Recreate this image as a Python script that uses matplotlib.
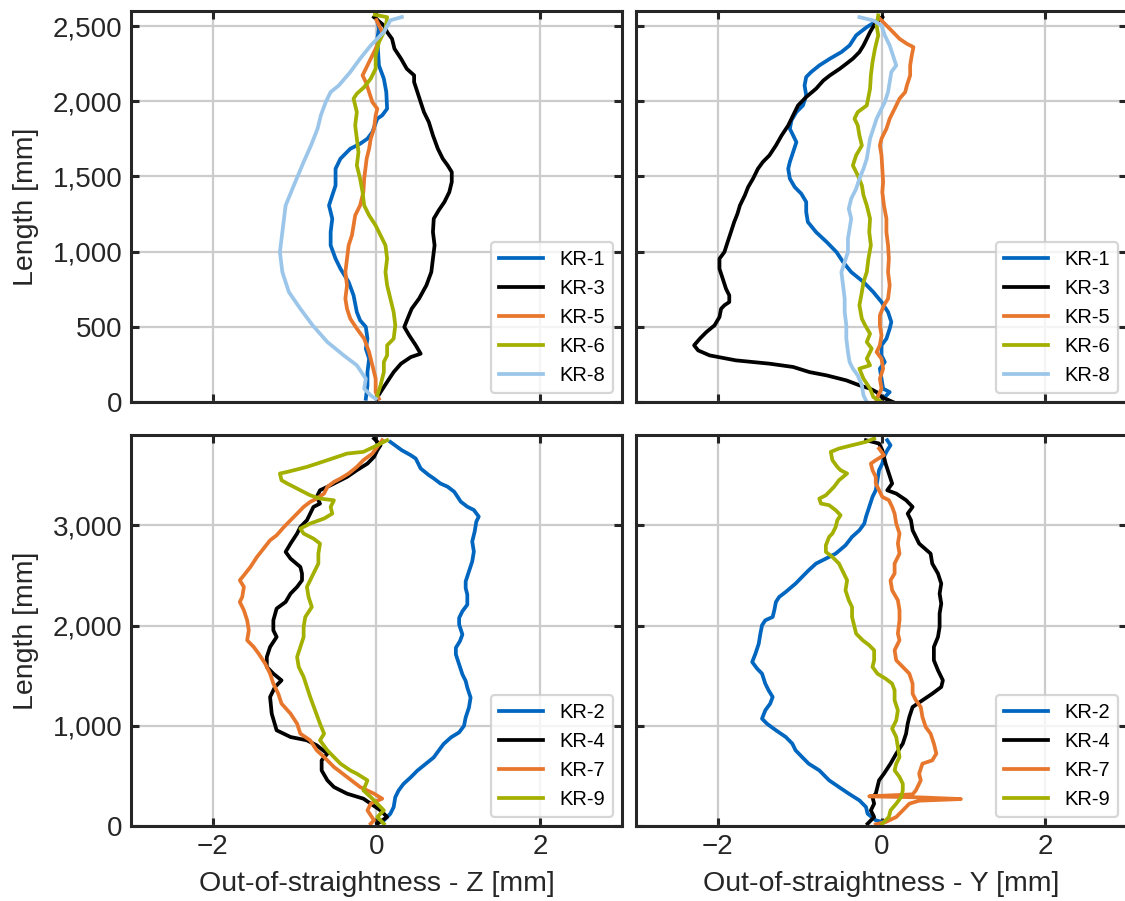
import matplotlib.pyplot as plt
from matplotlib.ticker import FuncFormatter

plt.rcParams['font.family'] = ['Liberation Sans', 'DejaVu Sans']

blue = '#0066BF'
black = '#000000'
orange = '#E8772E'
green = '#A4B000'
lightblue = '#9BC6EA'

# ---- top row: KR-1, 3, 5, 6, 8 (length 0..2600)
kr1_z = [0.01, 0.03, 0.01, 0.03, 0.09, 0.12, 0.13, 0.07, 0.01, -0.05, -0.11, -0.20, -0.32, -0.36, -0.44, -0.50, -0.50, -0.54, -0.58, -0.54, -0.56, -0.56, -0.50, -0.44, -0.34, -0.28, -0.24, -0.20, -0.13, -0.11, -0.13, -0.09, -0.11, -0.11, -0.13]
kr1_z_len = [2537, 2482, 2415, 2238, 2150, 2061, 1950, 1906, 1884, 1795, 1751, 1717, 1684, 1662, 1618, 1551, 1440, 1374, 1307, 1219, 1130, 1042, 953, 886, 798, 709, 598, 543, 499, 421, 355, 288, 199, 111, 22]

kr3_z = [-0.03, 0.09, 0.13, 0.19, 0.22, 0.30, 0.37, 0.46, 0.46, 0.50, 0.54, 0.58, 0.64, 0.69, 0.75, 0.81, 0.87, 0.92, 0.92, 0.89, 0.83, 0.76, 0.70, 0.69, 0.71, 0.69, 0.67, 0.61, 0.52, 0.43, 0.38, 0.34, 0.40, 0.48, 0.54, 0.42, 0.30, 0.21, 0.13, 0.05, 0.0]
kr3_z_len = [2559, 2504, 2460, 2415, 2349, 2283, 2216, 2172, 2127, 2061, 1994, 1928, 1861, 1773, 1684, 1618, 1573, 1529, 1463, 1396, 1330, 1274, 1219, 1130, 1042, 953, 864, 776, 687, 620, 554, 499, 443, 377, 321, 299, 255, 199, 133, 66, 22]

kr5_z = [0.0, 0.07, 0.05, -0.01, -0.07, -0.13, -0.17, -0.13, -0.09, -0.05, 0.01, -0.01, -0.03, -0.07, -0.09, -0.12, -0.13, -0.15, -0.16, -0.20, -0.26, -0.28, -0.30, -0.34, -0.36, -0.38, -0.36, -0.38, -0.36, -0.32, -0.24, -0.15, -0.09, -0.05, -0.01, -0.01, 0.03]
kr5_z_len = [2540, 2460, 2427, 2349, 2283, 2216, 2172, 2127, 2061, 1994, 1950, 1906, 1817, 1751, 1684, 1618, 1573, 1485, 1396, 1307, 1241, 1174, 1108, 1042, 953, 864, 776, 687, 620, 554, 488, 421, 332, 244, 155, 66, 22]

kr6_z = [-0.02, 0.13, 0.11, 0.03, -0.01, -0.01, -0.07, -0.15, -0.24, -0.28, -0.24, -0.26, -0.24, -0.22, -0.24, -0.20, -0.17, -0.15, -0.09, -0.01, 0.05, 0.11, 0.13, 0.11, 0.13, 0.17, 0.21, 0.23, 0.21, 0.13, 0.13, 0.09, 0.09, 0.05, 0.01]
kr6_z_len = [2575, 2559, 2482, 2393, 2305, 2216, 2150, 2094, 2050, 2017, 1928, 1839, 1751, 1662, 1573, 1485, 1396, 1307, 1241, 1174, 1108, 1042, 953, 864, 776, 687, 598, 510, 421, 377, 310, 266, 199, 111, 44]

kr8_z = [0.31, 0.17, 0.09, -0.07, -0.20, -0.32, -0.46, -0.56, -0.62, -0.68, -0.72, -0.80, -0.89, -1.01, -1.11, -1.15, -1.18, -1.15, -1.07, -0.93, -0.78, -0.60, -0.40, -0.24, -0.13, -0.15, -0.07, -0.01]
kr8_z_len = [2560, 2538, 2460, 2371, 2283, 2194, 2105, 2061, 1994, 1906, 1817, 1706, 1596, 1440, 1307, 1130, 997, 864, 731, 620, 510, 399, 310, 244, 155, 89, 44, 22]

kr1_y = [-0.08, -0.18, -0.31, -0.39, -0.49, -0.63, -0.76, -0.86, -0.92, -0.94, -0.92, -0.96, -1.04, -1.10, -1.12, -1.08, -1.04, -1.08, -1.12, -1.14, -1.12, -1.06, -0.98, -0.92, -0.92, -0.90, -0.80, -0.67, -0.55, -0.47, -0.37, -0.22, -0.10, 0.0, 0.08, 0.12, 0.10, 0.06, 0.0, 0.0, 0.04, -0.02, 0.0, 0.02, 0.10, 0.04]
kr1_y_len = [2526, 2493, 2438, 2371, 2327, 2283, 2238, 2194, 2161, 2105, 2039, 1972, 1928, 1873, 1817, 1773, 1728, 1662, 1596, 1551, 1485, 1429, 1385, 1330, 1263, 1197, 1130, 1064, 997, 931, 864, 798, 731, 665, 598, 532, 488, 421, 377, 310, 266, 222, 155, 89, 66, 33]

kr3_y = [0.01, -0.08, -0.14, -0.18, -0.22, -0.27, -0.35, -0.43, -0.51, -0.63, -0.71, -0.80, -0.92, -1.02, -1.08, -1.14, -1.22, -1.29, -1.37, -1.45, -1.51, -1.57, -1.63, -1.67, -1.73, -1.76, -1.80, -1.84, -1.88, -1.92, -1.98, -1.98, -1.94, -1.90, -1.86, -1.86, -1.92, -1.96, -1.98, -2.04, -2.14, -2.22, -2.29, -2.24, -2.10, -1.78, -1.37, -1.08, -0.88, -0.67, -0.43, -0.27, -0.14, -0.06, 0.0, 0.14]
kr3_y_len = [2560, 2515, 2460, 2415, 2371, 2327, 2283, 2249, 2216, 2172, 2138, 2083, 2028, 1972, 1906, 1839, 1773, 1706, 1640, 1596, 1551, 1485, 1429, 1374, 1307, 1252, 1197, 1130, 1064, 997, 953, 886, 820, 753, 709, 665, 643, 620, 565, 510, 465, 421, 377, 343, 310, 277, 255, 233, 199, 177, 144, 111, 89, 66, 33, 0]

kr5_y = [-0.02, 0.06, 0.14, 0.22, 0.31, 0.39, 0.37, 0.35, 0.35, 0.31, 0.29, 0.22, 0.18, 0.14, 0.10, 0.06, 0.0, -0.02, 0.0, 0.01, 0.02, 0.01, 0.03, 0.06, 0.06, 0.08, 0.09, 0.08, 0.10, 0.08, 0.03, -0.02, -0.02, 0.0, -0.02, -0.06, 0.0, 0.02, -0.02, 0.0, -0.04, -0.06]
kr5_y_len = [2548, 2504, 2460, 2415, 2382, 2360, 2305, 2238, 2172, 2105, 2061, 2017, 1972, 1928, 1884, 1817, 1751, 1706, 1640, 1551, 1463, 1396, 1307, 1219, 1130, 1042, 953, 864, 776, 687, 643, 576, 510, 443, 377, 332, 288, 222, 155, 89, 44, 11]

kr6_y = [-0.04, -0.06, -0.04, -0.08, -0.11, -0.13, -0.14, -0.18, -0.29, -0.33, -0.29, -0.27, -0.24, -0.31, -0.35, -0.29, -0.24, -0.22, -0.18, -0.14, -0.15, -0.13, -0.16, -0.18, -0.22, -0.24, -0.27, -0.24, -0.20, -0.14, -0.18, -0.12, -0.18, -0.14, -0.27, -0.22, -0.14, -0.10, 0.0]
kr6_y_len = [2571, 2504, 2438, 2349, 2260, 2172, 2083, 1972, 1928, 1884, 1839, 1773, 1706, 1640, 1573, 1507, 1440, 1374, 1307, 1219, 1130, 1042, 953, 864, 798, 731, 643, 554, 510, 454, 399, 355, 288, 244, 222, 155, 89, 33, 0]

kr8_y = [-0.27, -0.10, 0.0, 0.04, 0.10, 0.14, 0.18, 0.12, 0.10, 0.08, 0.04, -0.02, -0.06, -0.10, -0.14, -0.16, -0.18, -0.22, -0.27, -0.31, -0.37, -0.40, -0.37, -0.39, -0.41, -0.41, -0.45, -0.49, -0.47, -0.45, -0.45, -0.43, -0.43, -0.41, -0.39, -0.35, -0.29, -0.24, -0.22, -0.18]
kr8_y_len = [2559, 2537, 2504, 2438, 2371, 2305, 2238, 2194, 2127, 2061, 1994, 1928, 1884, 1817, 1751, 1684, 1618, 1551, 1485, 1418, 1352, 1285, 1219, 1152, 1086, 997, 931, 864, 776, 687, 598, 510, 421, 332, 266, 222, 177, 111, 44, 0]

# ---- bottom row: KR-2, 4, 7, 9 (length 0..3900)
kr2_z = [0.09, 0.17, 0.21, 0.23, 0.27, 0.33, 0.42, 0.50, 0.60, 0.70, 0.76, 0.82, 0.91, 1.01, 1.07, 1.09, 1.13, 1.15, 1.11, 1.09, 1.05, 1.01, 0.97, 0.97, 1.02, 1.05, 1.01, 1.01, 1.05, 1.11, 1.11, 1.09, 1.09, 1.13, 1.17, 1.19, 1.17, 1.20, 1.22, 1.25, 1.19, 1.11, 1.03, 0.99, 0.95, 0.87, 0.78, 0.70, 0.64, 0.54, 0.48, 0.42, 0.31, 0.17]
kr2_z_len = [56, 123, 189, 288, 354, 420, 487, 553, 619, 685, 752, 818, 884, 934, 1000, 1083, 1182, 1281, 1381, 1447, 1513, 1612, 1712, 1778, 1844, 1910, 2010, 2076, 2142, 2208, 2308, 2374, 2440, 2540, 2639, 2738, 2838, 2937, 3036, 3086, 3152, 3185, 3235, 3285, 3334, 3384, 3417, 3467, 3500, 3566, 3665, 3698, 3748, 3831]

kr4_z = [-0.03, 0.05, 0.01, -0.03, -0.11, -0.24, -0.36, -0.44, -0.56, -0.69, -0.73, -0.69, -0.77, -0.81, -0.85, -0.93, -0.97, -1.05, -1.11, -1.05, -0.93, -0.91, -0.91, -0.97, -1.05, -1.11, -1.22, -1.26, -1.26, -1.22, -1.30, -1.34, -1.34, -1.26, -1.16, -1.24, -1.30, -1.28, -1.22, -1.05, -0.85, -0.73, -0.60, -0.67, -0.67, -0.60, -0.52, -0.36, -0.16, -0.07, 0.05, 0.13, 0.01]
kr4_z_len = [3865, 3798, 3748, 3682, 3615, 3549, 3482, 3449, 3399, 3349, 3283, 3216, 3183, 3116, 3050, 2983, 2917, 2817, 2734, 2667, 2584, 2518, 2451, 2385, 2318, 2235, 2169, 2052, 1952, 1886, 1786, 1686, 1587, 1520, 1453, 1387, 1287, 1121, 955, 888, 855, 805, 722, 655, 555, 456, 389, 323, 273, 223, 156, 90, 23]

kr7_z = [0.07, 0.01, -0.05, -0.16, -0.24, -0.34, -0.44, -0.52, -0.60, -0.64, -0.73, -0.81, -0.89, -0.97, -1.05, -1.13, -1.22, -1.30, -1.38, -1.46, -1.54, -1.62, -1.67, -1.62, -1.64, -1.67, -1.62, -1.58, -1.56, -1.58, -1.50, -1.44, -1.36, -1.30, -1.26, -1.20, -1.16, -1.05, -0.97, -0.93, -0.81, -0.73, -0.64, -0.52, -0.36, -0.20, -0.03, 0.07, -0.07, -0.11, -0.03, -0.07]
kr7_z_len = [3848, 3782, 3715, 3649, 3582, 3516, 3466, 3432, 3383, 3316, 3266, 3233, 3183, 3116, 3050, 2983, 2900, 2850, 2767, 2684, 2584, 2501, 2451, 2385, 2285, 2235, 2152, 2052, 1952, 1853, 1786, 1720, 1620, 1520, 1420, 1320, 1221, 1121, 1021, 921, 855, 755, 688, 589, 489, 389, 323, 273, 223, 156, 57, 23]

kr9_z = [0.13, -0.03, -0.16, -0.36, -0.60, -0.85, -1.09, -1.18, -1.16, -1.09, -1.01, -0.93, -0.81, -0.69, -0.52, -0.56, -0.54, -0.64, -0.81, -0.93, -0.89, -0.77, -0.69, -0.71, -0.71, -0.77, -0.85, -0.83, -0.79, -0.87, -0.89, -0.89, -0.93, -0.97, -0.95, -0.89, -0.85, -0.81, -0.75, -0.69, -0.64, -0.69, -0.60, -0.52, -0.44, -0.32, -0.24, -0.11, -0.16, -0.07, 0.01, 0.09, 0.01, 0.09]
kr9_z_len = [3848, 3782, 3732, 3715, 3649, 3582, 3532, 3516, 3449, 3416, 3383, 3349, 3299, 3266, 3249, 3183, 3116, 3067, 3017, 2967, 2917, 2867, 2817, 2717, 2618, 2518, 2385, 2285, 2185, 2085, 1986, 1886, 1786, 1686, 1587, 1487, 1387, 1287, 1154, 1021, 921, 855, 755, 688, 622, 555, 522, 456, 356, 289, 223, 156, 90, 23]

kr2_y = [0.07, 0.11, 0.07, 0.03, 0.01, -0.03, -0.05, -0.07, -0.11, -0.15, -0.19, -0.21, -0.27, -0.36, -0.44, -0.56, -0.68, -0.80, -0.89, -0.97, -1.05, -1.17, -1.25, -1.29, -1.31, -1.33, -1.42, -1.46, -1.48, -1.50, -1.54, -1.58, -1.52, -1.46, -1.42, -1.38, -1.33, -1.36, -1.42, -1.46, -1.40, -1.29, -1.17, -1.09, -1.05, -0.97, -0.89, -0.76, -0.64, -0.52, -0.40, -0.27, -0.19, -0.17, -0.07, 0.01]
kr2_y_len = [3848, 3798, 3748, 3682, 3615, 3549, 3449, 3349, 3283, 3183, 3083, 3017, 2950, 2884, 2800, 2717, 2667, 2618, 2551, 2485, 2418, 2335, 2285, 2235, 2152, 2085, 2052, 2002, 1919, 1819, 1720, 1636, 1570, 1520, 1420, 1354, 1287, 1221, 1154, 1071, 1021, 955, 888, 822, 755, 688, 622, 555, 456, 389, 323, 256, 190, 123, 57, 40]

kr4_y = [-0.19, -0.11, -0.03, 0.01, 0.03, 0.05, 0.09, 0.13, 0.07, 0.18, 0.30, 0.38, 0.32, 0.36, 0.38, 0.46, 0.60, 0.62, 0.69, 0.73, 0.71, 0.73, 0.71, 0.71, 0.69, 0.64, 0.64, 0.69, 0.75, 0.73, 0.62, 0.50, 0.38, 0.34, 0.32, 0.30, 0.26, 0.18, 0.11, 0.03, -0.03, -0.05, -0.07, -0.11, -0.09, -0.13, -0.09, -0.17]
kr4_y_len = [3848, 3832, 3815, 3748, 3682, 3615, 3516, 3416, 3349, 3316, 3250, 3183, 3116, 3050, 2950, 2817, 2717, 2618, 2518, 2418, 2318, 2218, 2119, 1986, 1886, 1786, 1653, 1553, 1453, 1387, 1320, 1254, 1187, 1088, 1021, 921, 822, 722, 622, 522, 456, 389, 323, 289, 223, 156, 90, 23]

kr7_y = [-0.03, 0.03, -0.07, -0.13, -0.11, -0.07, -0.07, -0.03, 0.01, 0.09, 0.13, 0.16, 0.18, 0.22, 0.20, 0.22, 0.16, 0.16, 0.11, 0.13, 0.20, 0.22, 0.22, 0.20, 0.22, 0.16, 0.18, 0.26, 0.34, 0.38, 0.38, 0.42, 0.48, 0.50, 0.54, 0.60, 0.64, 0.67, 0.62, 0.50, 0.46, 0.48, 0.42, 0.38, -0.15, 0.46, 0.97, 0.46, 0.34, 0.26, 0.18, 0.05, -0.07]
kr7_y_len = [3765, 3699, 3649, 3615, 3549, 3482, 3416, 3349, 3283, 3250, 3183, 3116, 3017, 2917, 2817, 2717, 2618, 2518, 2451, 2351, 2252, 2152, 2052, 1919, 1853, 1753, 1653, 1587, 1520, 1420, 1320, 1254, 1187, 1088, 988, 921, 822, 722, 655, 622, 522, 456, 356, 316, 296, 286, 269, 253, 223, 156, 90, 40, 17]

kr9_y = [-0.09, -0.19, -0.36, -0.52, -0.62, -0.60, -0.54, -0.50, -0.42, -0.52, -0.58, -0.68, -0.76, -0.74, -0.64, -0.56, -0.50, -0.54, -0.56, -0.60, -0.64, -0.68, -0.68, -0.60, -0.52, -0.48, -0.42, -0.44, -0.40, -0.36, -0.36, -0.33, -0.31, -0.23, -0.15, -0.09, -0.09, -0.11, -0.05, 0.05, 0.13, 0.16, 0.16, 0.20, 0.18, 0.13, 0.18, 0.20, 0.22, 0.18, 0.16, 0.22, 0.26, 0.26, 0.24, 0.18, 0.11, 0.09, 0.01]
kr9_y_len = [3865, 3832, 3798, 3765, 3732, 3649, 3582, 3549, 3516, 3449, 3383, 3299, 3266, 3216, 3200, 3150, 3100, 3050, 2983, 2917, 2884, 2800, 2734, 2684, 2618, 2551, 2451, 2351, 2252, 2185, 2085, 1986, 1919, 1853, 1803, 1753, 1653, 1587, 1520, 1470, 1420, 1354, 1254, 1154, 1054, 971, 888, 788, 688, 622, 555, 489, 422, 356, 289, 223, 156, 90, 23]

top_ticks = [0, 500, 1000, 1500, 2000, 2500]
bottom_ticks = [0, 1000, 2000, 3000]
x_ticks = [-2, 0, 2]

fig, axes = plt.subplots(2, 2, figsize=(11.25, 9.01), dpi=100, sharex=True)
fig.subplots_adjust(left=0.1164, right=1.0018, top=0.9878, bottom=0.0832,
                    wspace=0.0285, hspace=0.0844)

lw = 2.7
ax = axes[0, 0]
ax.plot(kr1_z, kr1_z_len, color=blue, lw=lw, label='KR-1')
ax.plot(kr3_z, kr3_z_len, color=black, lw=lw, label='KR-3')
ax.plot(kr5_z, kr5_z_len, color=orange, lw=lw, label='KR-5')
ax.plot(kr6_z, kr6_z_len, color=green, lw=lw, label='KR-6')
ax.plot(kr8_z, kr8_z_len, color=lightblue, lw=lw, label='KR-8')

ax = axes[0, 1]
ax.plot(kr1_y, kr1_y_len, color=blue, lw=lw, label='KR-1')
ax.plot(kr3_y, kr3_y_len, color=black, lw=lw, label='KR-3')
ax.plot(kr5_y, kr5_y_len, color=orange, lw=lw, label='KR-5')
ax.plot(kr6_y, kr6_y_len, color=green, lw=lw, label='KR-6')
ax.plot(kr8_y, kr8_y_len, color=lightblue, lw=lw, label='KR-8')

ax = axes[1, 0]
ax.plot(kr2_z, kr2_z_len, color=blue, lw=lw, label='KR-2')
ax.plot(kr4_z, kr4_z_len, color=black, lw=lw, label='KR-4')
ax.plot(kr7_z, kr7_z_len, color=orange, lw=lw, label='KR-7')
ax.plot(kr9_z, kr9_z_len, color=green, lw=lw, label='KR-9')

ax = axes[1, 1]
ax.plot(kr2_y, kr2_y_len, color=blue, lw=lw, label='KR-2')
ax.plot(kr4_y, kr4_y_len, color=black, lw=lw, label='KR-4')
ax.plot(kr7_y, kr7_y_len, color=orange, lw=lw, label='KR-7')
ax.plot(kr9_y, kr9_y_len, color=green, lw=lw, label='KR-9')

fmt = FuncFormatter(lambda v, p: f'{v:,.0f}')
for i in range(2):
    for j in range(2):
        ax = axes[i, j]
        ax.set_xlim(-3, 3)
        ax.set_xticks(x_ticks)
        if i == 0:
            ax.set_ylim(0, 2600)
            ax.set_yticks(top_ticks)
        else:
            ax.set_ylim(0, 3900)
            ax.set_yticks(bottom_ticks)
        ax.yaxis.set_major_formatter(fmt)
        ax.grid(True, color='#CCCCCC', lw=1.6)
        ax.tick_params(direction='in', length=6, width=2.2, colors='#262626',
                       top=True, right=True, labelsize=20, pad=6)
        for s in ax.spines.values():
            s.set_linewidth(2.2)
            s.set_color('#262626')
        if j == 1:
            ax.tick_params(labelleft=False)
        else:
            ax.set_ylabel('Length [mm]', fontsize=20.5, color='#262626', labelpad=10)
        leg = ax.legend(loc='lower right', fontsize=14.5, handlelength=2.2,
                        labelspacing=0.5, fancybox=True, framealpha=0.8,
                        edgecolor='#CCCCCC', borderpad=0.4, borderaxespad=0.45)
        leg.get_frame().set_linewidth(1.6)

axes[1, 0].set_xlabel('Out-of-straightness - Z [mm]', fontsize=20.5, color='#262626', labelpad=8)
axes[1, 1].set_xlabel('Out-of-straightness - Y [mm]', fontsize=20.5, color='#262626', labelpad=8)

fig.savefig('out.png', dpi=100)
